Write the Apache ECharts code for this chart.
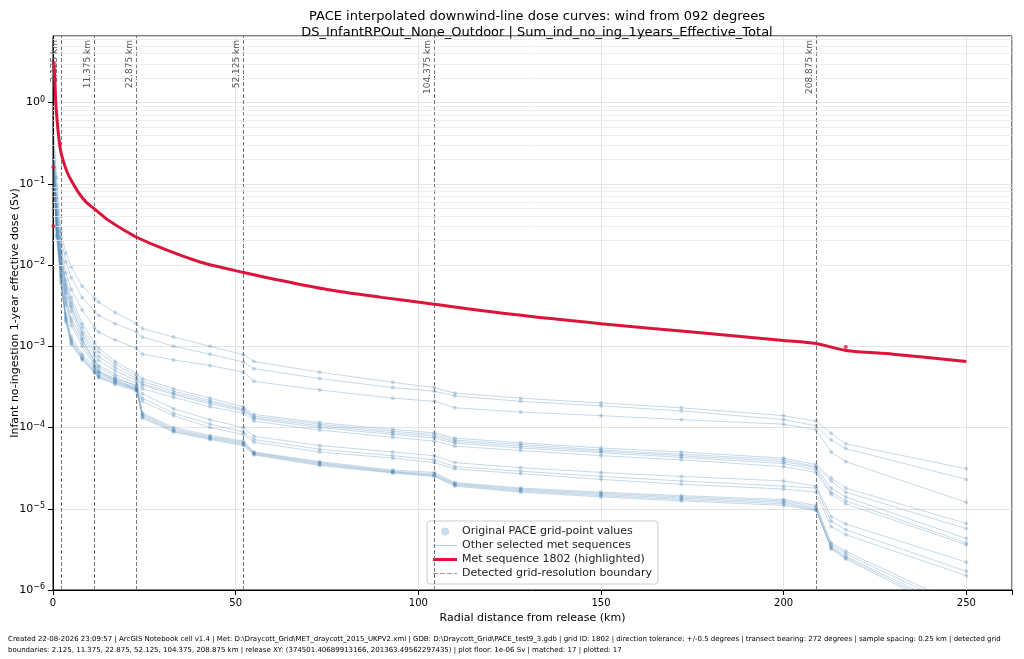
<!DOCTYPE html>
<html><head><meta charset="utf-8">
<script src="https://cdn.jsdelivr.net/npm/echarts@6/dist/echarts.min.js"></script>
<style>html,body{margin:0;padding:0;background:#fff}#c{width:1024px;height:659px}</style>
</head><body><div id="c"></div>
<script>
const X = [0.25,1,2.125,3.5,5,8,11.375,12.5,17,22.875,24.5,33,43,52.125,55,73,93,104.375,110,128,150,172,200,208.875,213,217,250];
const T1=[4e-1,1.2e-1,2.6e-2,1.4e-2,9.5e-3,5.5e-3,3.9e-3,3.5e-3,2.6e-3,1.9e-3,1.65e-3,1.3e-3,1e-3,7.9e-4,6.5e-4,4.8e-4,3.6e-4,3.1e-4,2.65e-4,2.3e-4,2e-4,1.75e-4,1.4e-4,1.2e-4,8.5e-5,6.3e-5,3.1e-5];
const T2=[3.2e-1,9e-2,2.2e-2,1.1e-2,7e-3,4e-3,2.7e-3,2.4e-3,1.9e-3,1.5e-3,1.3e-3,1e-3,8e-4,6.4e-4,5.3e-4,4e-4,3.1e-4,2.8e-4,2.45e-4,2.1e-4,1.85e-4,1.6e-4,1.25e-4,1.05e-4,7e-5,5.5e-5,2.3e-5];
const T3=[2.6e-1,7e-2,1.8e-2,8e-3,5e-3,2.8e-3,1.7e-3,1.5e-3,1.2e-3,9.4e-4,8e-4,6.8e-4,5.8e-4,4.8e-4,3.7e-4,2.9e-4,2.3e-4,2.1e-4,1.75e-4,1.55e-4,1.4e-4,1.25e-4,1.1e-4,9.4e-5,5e-5,3.8e-5,1.2e-5];
const M1=[2.2e-1,5.5e-2,1.5e-2,6.5e-3,4e-3,1.9e-3,1.1e-3,9.5e-4,6.5e-4,4.6e-4,4e-4,3e-4,2.3e-4,1.8e-4,1.45e-4,1.15e-4,9.5e-5,8.6e-5,7.4e-5,6.5e-5,5.6e-5,5e-5,4.2e-5,3.5e-5,2.4e-5,1.8e-5,6.6e-6];
const M2=[2e-1,5e-2,1.4e-2,5.8e-3,3.5e-3,1.7e-3,9.5e-4,8.5e-4,6e-4,4.3e-4,3.7e-4,2.8e-4,2.15e-4,1.7e-4,1.38e-4,1.1e-4,9e-5,8.2e-5,7e-5,6.2e-5,5.3e-5,4.7e-5,4e-5,3.3e-5,2.2e-5,1.6e-5,5.7e-6];
const M3=[1.9e-1,4.5e-2,1.3e-2,5.3e-3,3.2e-3,1.5e-3,8.5e-4,7.5e-4,5.5e-4,4e-4,3.45e-4,2.65e-4,2.05e-4,1.65e-4,1.32e-4,1.05e-4,8.6e-5,7.8e-5,6.7e-5,5.9e-5,5.1e-5,4.5e-5,3.8e-5,3.2e-5,1.8e-5,1.4e-5,4.3e-6];
const M4=[1.8e-1,4.2e-2,1.2e-2,4.9e-3,3e-3,1.4e-3,7.5e-4,6.7e-4,5e-4,3.8e-4,3.3e-4,2.55e-4,1.95e-4,1.6e-4,1.28e-4,1e-4,8.2e-5,7.4e-5,6.4e-5,5.6e-5,4.9e-5,4.3e-5,3.6e-5,3e-5,1.6e-5,1.25e-5,3.8e-6];
const M5=[1.7e-1,4e-2,1.1e-2,4.5e-3,2.7e-3,1.25e-3,6.5e-4,5.8e-4,4.5e-4,3.5e-4,3e-4,2.35e-4,1.8e-4,1.5e-4,1.2e-4,9.3e-5,7.6e-5,6.8e-5,5.9e-5,5.2e-5,4.5e-5,4e-5,3.3e-5,2.8e-5,1.5e-5,1.15e-5,3.6e-6];
const L1=[1.5e-1,3.5e-2,1e-2,3.9e-3,2.2e-3,1.2e-3,6.5e-4,5.5e-4,4.2e-4,3.2e-4,2.6e-4,1.7e-4,1.25e-4,1e-4,7.8e-5,6e-5,5e-5,4.5e-5,3.7e-5,3.2e-5,2.8e-5,2.5e-5,2.2e-5,1.9e-5,8e-6,6.5e-6,2.2e-6];
const L2=[1.4e-1,3.2e-2,9.5e-3,3.5e-3,2e-3,1.1e-3,6e-4,5e-4,3.9e-4,3e-4,2.3e-4,1.5e-4,1.1e-4,8.8e-5,7.1e-5,5.4e-5,4.5e-5,4e-5,3.3e-5,2.9e-5,2.5e-5,2.2e-5,1.9e-5,1.8e-5,7e-6,5.5e-6,1.7e-6];
const L3=[1.3e-1,3e-2,9e-3,3.2e-3,1.8e-3,1e-3,5.6e-4,4.8e-4,3.7e-4,2.9e-4,2.1e-4,1.4e-4,1e-4,8.2e-5,6.6e-5,5e-5,4.2e-5,3.7e-5,3.1e-5,2.7e-5,2.3e-5,2e-5,1.75e-5,1.6e-5,6e-6,4.8e-6,1.5e-6];
const B1=[1.2e-1,2.8e-2,8e-3,2.5e-3,1.3e-3,8e-4,5.5e-4,4.8e-4,4e-4,3.3e-4,1.5e-4,1e-4,8e-5,6.8e-5,5e-5,3.8e-5,3e-5,2.8e-5,2.1e-5,1.8e-5,1.6e-5,1.45e-5,1.3e-5,1.1e-5,3.8e-6,3e-6,6e-7];
const B2=[1.1e-1,2.6e-2,7.5e-3,2.3e-3,1.2e-3,7.5e-4,5.2e-4,4.5e-4,3.8e-4,3.1e-4,1.45e-4,9.6e-5,7.7e-5,6.6e-5,4.9e-5,3.7e-5,2.9e-5,2.7e-5,2.05e-5,1.75e-5,1.55e-5,1.4e-5,1.25e-5,1.05e-5,3.6e-6,2.8e-6,5.5e-7];
const B3=[1.05e-1,2.4e-2,7e-3,2.2e-3,1.15e-3,7.2e-4,5e-4,4.3e-4,3.6e-4,3e-4,1.4e-4,9.3e-5,7.5e-5,6.4e-5,4.8e-5,3.6e-5,2.85e-5,2.6e-5,2e-5,1.7e-5,1.5e-5,1.35e-5,1.2e-5,1e-5,3.4e-6,2.6e-6,5e-7];
const B4=[1e-1,2.3e-2,6.5e-3,2.1e-3,1.1e-3,7e-4,4.8e-4,4.2e-4,3.5e-4,2.9e-4,1.35e-4,9e-5,7.3e-5,6.2e-5,4.7e-5,3.5e-5,2.8e-5,2.55e-5,1.95e-5,1.65e-5,1.45e-5,1.3e-5,1.15e-5,9.7e-6,3.3e-6,2.5e-6,4.6e-7];
const B5=[9.5e-2,2.2e-2,6e-3,2e-3,1.05e-3,6.8e-4,4.7e-4,4.1e-4,3.4e-4,2.8e-4,1.3e-4,8.8e-5,7.1e-5,6e-5,4.6e-5,3.4e-5,2.75e-5,2.5e-5,1.9e-5,1.6e-5,1.4e-5,1.25e-5,1.1e-5,9.5e-6,3.2e-6,2.4e-6,4.3e-7];
const others=[T1,T2,T3,M1,M2,M3,M4,M5,L1,L2,L3,B1,B2,B3,B4,B5];
const redX=[0.25,0.5,0.75,1,1.5,2.125,3,4,5,7,9,11.375,15,20,22.875,30,40,52.125,60,75,90,104.375,125,150,175,200,208.875,217,230,250];
const redY=[3.0,2.0,1.0,0.7,0.4,0.25,0.18,0.135,0.11,0.078,0.06,0.049,0.036,0.026,0.022,0.016,0.011,0.0081,0.0068,0.005,0.004,0.0033,0.0025,0.0019,0.0015,0.00118,0.00108,0.00089,0.0008,0.00065];
const redPts=[[0.25,3.1],[0.1,0.16],[0.1,0.03],[217,0.00098]];
const boundaries=[2.125,11.375,22.875,52.125,104.375,208.875];
const xTicks=[0,50,100,150,200,250];
const minorY=[];
for(let e=-6;e<=0;e++)for(let m=2;m<=9;m++){const v=m*Math.pow(10,e);if(v<6.6)minorY.push(v);}

const blue='#4682b4';
const series=[];
const pts=[];
others.forEach((arr,i)=>{
  series.push({name:'Other selected met sequences',type:'line',data:X.map((x,j)=>[x,arr[j]]),symbol:'none',
    lineStyle:{color:blue,width:1,opacity:0.3},itemStyle:{color:'rgba(70,130,180,0.4)'},z:2,silent:true});
  X.forEach((x,j)=>{ if(j>0) pts.push([x,arr[j]]); });
});
series.push({name:'Original PACE grid-point values',type:'scatter',data:pts,symbolSize:4,
  itemStyle:{color:'rgba(70,130,180,0.35)'},z:3});
series.push({name:'Met sequence 1802 (highlighted)',type:'line',data:redX.map((x,j)=>[x,redY[j]]),symbol:'none',smooth:0.3,
  lineStyle:{color:'#dc143c',width:3},itemStyle:{color:'#dc143c'},z:5});
series.push({name:'redpts',type:'scatter',data:redPts,symbolSize:4,itemStyle:{color:'#dc143c'},z:6});
series.push({name:'Detected grid-resolution boundary',type:'line',data:[],symbol:'none',
  lineStyle:{color:'#888',width:1,type:'dashed'},itemStyle:{color:'#888'},
  markLine:{silent:true,symbol:'none',animation:false,
    lineStyle:{color:'#777',type:'dashed',width:1},
    label:{show:true,position:'insideEndTop',formatter:p=>boundaries[p.dataIndex]+' km',color:'#555',fontSize:9,fontFamily:'DejaVu Sans',distance:[4,2]},
    data:boundaries.map(b=>({xAxis:b}))}});
series.push({type:'line',data:[],silent:true,
  markLine:{silent:true,symbol:'none',animation:false,label:{show:false},
    lineStyle:{color:'#e8e8e8',type:'solid',width:0.8},data:minorY.map(v=>({yAxis:v}))},z:0});

const chart=echarts.init(document.getElementById('c'));
chart.setOption({
  animation:false,
  title:{text:'PACE interpolated downwind-line dose curves: wind from 092 degrees\nDS_InfantRPOut_None_Outdoor | Sum_ind_no_ing_1years_Effective_Total',
    left:532,textAlign:'center',top:4,textStyle:{fontSize:13,fontWeight:'normal',color:'#000',lineHeight:16,fontFamily:'DejaVu Sans'}},
  grid:{left:53,right:12,top:36,bottom:69,show:true,borderColor:'#000',borderWidth:1,containLabel:false,outerBoundsMode:'none'},
  legend:{orient:'vertical',left:427,top:521,backgroundColor:'#fff',borderColor:'#ccc',borderWidth:1,borderRadius:3,
    padding:[5,6],itemGap:3,itemWidth:24,itemHeight:8,textStyle:{fontSize:11,fontFamily:'DejaVu Sans',color:'#222'},
    data:[{name:'Original PACE grid-point values',icon:'circle',itemStyle:{color:'rgba(70,130,180,0.35)'}},
      {name:'Other selected met sequences',icon:'path://M0,4L24,4L24,5L0,5Z',itemStyle:{color:'rgba(70,130,180,0.4)'}},
      {name:'Met sequence 1802 (highlighted)',icon:'path://M0,3L24,3L24,6L0,6Z'},
      {name:'Detected grid-resolution boundary',icon:'path://M0,4L5,4L5,5L0,5ZM7,4L12,4L12,5L7,5ZM14,4L19,4L19,5L14,5ZM21,4L24,4L24,5L21,5Z',itemStyle:{color:'#999'}}]},
  xAxis:{type:'value',min:0,max:262.5,interval:50,name:'Radial distance from release (km)',nameLocation:'middle',nameGap:20,
    nameTextStyle:{fontSize:11,fontFamily:'DejaVu Sans',color:'#000'},
    axisLine:{lineStyle:{color:'#000'}},axisTick:{lineStyle:{color:'#000'}},
    axisLabel:{color:'#000',fontSize:10,fontFamily:'DejaVu Sans',formatter:v=>xTicks.includes(v)?v:''},
    splitLine:{show:true,lineStyle:{color:'#ddd',width:0.8}}},
  yAxis:{type:'log',min:1e-6,max:6.6,logBase:10,
    axisLine:{lineStyle:{color:'#000'}},axisTick:{lineStyle:{color:'#000'}},
    axisLabel:{color:'#000',fontFamily:'DejaVu Sans',showMaxLabel:false,formatter:v=>{const e=Math.round(Math.log10(v));return '{b|10}{s|'+(e<0?'−'+(-e):e)+'}';},
      rich:{b:{fontSize:11,color:'#000'},s:{fontSize:8,color:'#000',verticalAlign:'top',padding:[0,0,6,0]}}},
    splitLine:{show:true,lineStyle:{color:'#ddd',width:0.8}}},
  graphic:[
    {type:'text',x:10,y:313,rotation:Math.PI/2,style:{text:'Infant no-ingestion 1-year effective dose (Sv)',fontSize:11,fill:'#000',fontFamily:'DejaVu Sans',align:'center',verticalAlign:'top'}},
    {type:'text',left:8,top:634,style:{text:'Created 22-08-2026 23:09:57 | ArcGIS Notebook cell v1.4 | Met: D:\\Draycott_Grid\\MET_draycott_2015_UKPV2.xml | GDB: D:\\Draycott_Grid\\PACE_test9_3.gdb | grid ID: 1802 | direction tolerance: +/-0.5 degrees | transect bearing: 272 degrees | sample spacing: 0.25 km | detected grid\nboundaries: 2.125, 11.375, 22.875, 52.125, 104.375, 208.875 km | release XY: (374501.40689913166, 201363.49562297435) | plot floor: 1e-06 Sv | matched: 17 | plotted: 17',
    fontSize:7,lineHeight:11,fill:'#000',fontFamily:'DejaVu Sans'}}],
  series
});
</script></body></html>
